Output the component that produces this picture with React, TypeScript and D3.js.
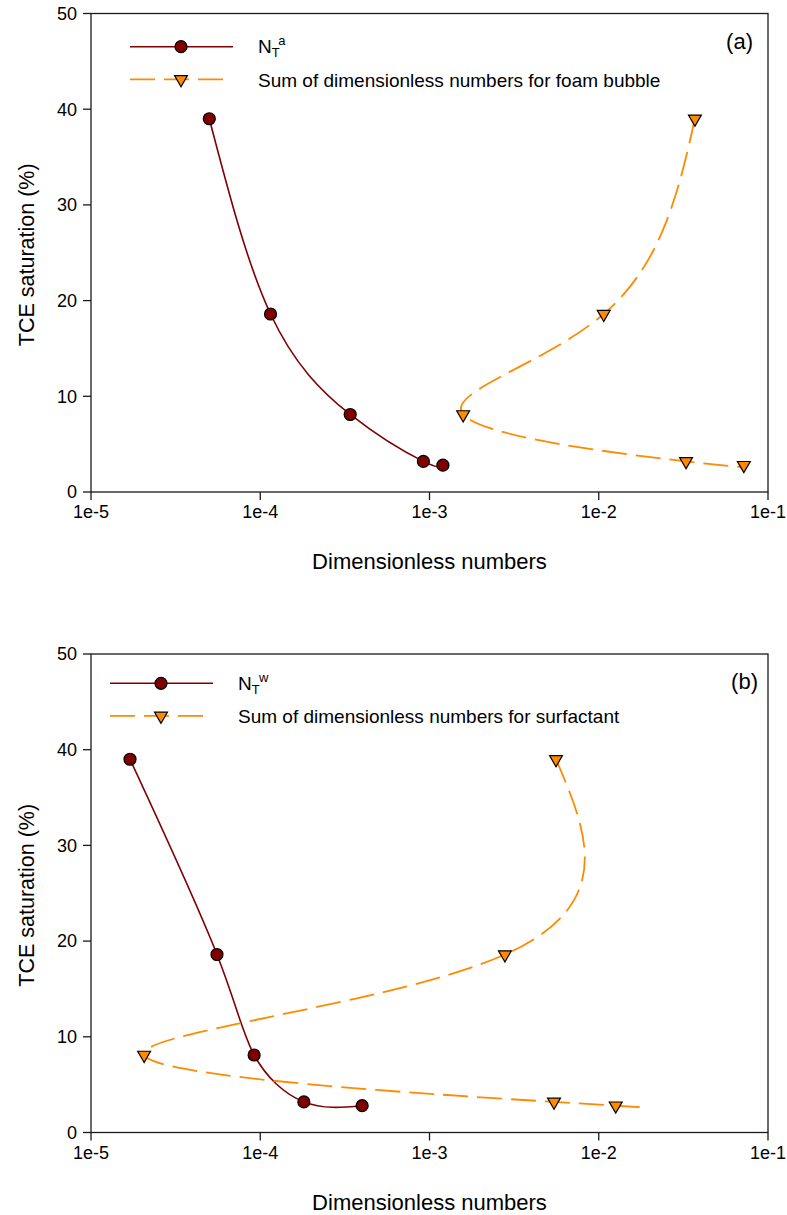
import React from "react";
import * as d3 from "d3";

// TCE saturation (%) shared by every series
const SATURATION = [39, 18.6, 8.1, 3.2, 2.8];

// Panel (a): foam bubble
const NT_AIR = [5.0e-5, 1.15e-4, 3.4e-4, 9.2e-4, 1.2e-3];
const SUM_FOAM = [3.7e-2, 1.07e-2, 1.58e-3, 3.28e-2, 7.2e-2];

// Panel (b): surfactant
const NT_WATER = [1.7e-5, 5.55e-5, 9.2e-5, 1.81e-4, 4.0e-4];
const SUM_SURF = [5.59e-3, 2.79e-3, 2.06e-5, 5.44e-3, 1.26e-2];

const X_TICKS = [1e-5, 1e-4, 1e-3, 1e-2, 1e-1];
const X_TICK_LABELS = ["1e-5", "1e-4", "1e-3", "1e-2", "1e-1"];
const Y_TICKS = [0, 10, 20, 30, 40, 50];

const FONT = "'Liberation Sans', Arial, Helvetica, sans-serif";
const MAROON = "#800000";
const ORANGE = "#ff8a00";
const AXIS = "#1a1a1a";
const DASH = "25,9";

const LEFT = 91;
const RIGHT = 768;
const PLOT_H = 478.5;

type PanelSpec = {
  top: number;
  nt: number[];
  sum: number[];
  ntSup: string;
  sumLabel: string;
  tag: string;
  legendX: number;
  legendY: number;
  tagX: number;
  tagY: number;
};

const PANELS: PanelSpec[] = [
  {
    top: 13.5,
    nt: NT_AIR,
    sum: SUM_FOAM,
    ntSup: "a",
    sumLabel: "Sum of dimensionless numbers for foam bubble",
    tag: "(a)",
    legendX: 130,
    legendY: 46.7,
    tagX: 753,
    tagY: 49,
  },
  {
    top: 654,
    nt: NT_WATER,
    sum: SUM_SURF,
    ntSup: "w",
    sumLabel: "Sum of dimensionless numbers for surfactant",
    tag: "(b)",
    legendX: 110,
    legendY: 683.3,
    tagX: 758,
    tagY: 689,
  },
];

const triangle = d3.symbol().type(d3.symbolTriangle).size(72)() as string;

function Panel({ p }: { p: PanelSpec }) {
  const x = d3.scaleLog().domain([1e-5, 1e-1]).range([LEFT, RIGHT]);
  const y = d3.scaleLinear().domain([0, 50]).range([p.top + PLOT_H, p.top]);
  const bottom = y(0);

  // smooth spline through the points in saturation order
  const lineFor = (xs: number[]) =>
    d3
      .line<number>()
      .x((_, i) => x(xs[i]))
      .y((d) => y(d))
      .curve(d3.curveNatural)(SATURATION) as string;

  const lx = p.legendX;
  const ly = p.legendY;
  const textX = lx + 128;

  return (
    <g>
      {/* frame */}
      <rect
        x={LEFT}
        y={p.top}
        width={RIGHT - LEFT}
        height={PLOT_H}
        fill="none"
        stroke={AXIS}
        strokeWidth={1.3}
      />
      {/* y axis */}
      {Y_TICKS.map((t) => (
        <g key={"y" + t}>
          <line x1={LEFT - 8} x2={LEFT} y1={y(t)} y2={y(t)} stroke={AXIS} strokeWidth={1.3} />
          <text
            x={LEFT - 14}
            y={y(t)}
            dy="0.35em"
            textAnchor="end"
            fontSize={18}
            fontFamily={FONT}
            fill="#000"
          >
            {t}
          </text>
        </g>
      ))}
      {/* x axis */}
      {X_TICKS.map((t, i) => (
        <g key={"x" + t}>
          <line x1={x(t)} x2={x(t)} y1={bottom} y2={bottom + 8} stroke={AXIS} strokeWidth={1.3} />
          <text
            x={x(t)}
            y={bottom + 20}
            dy="0.35em"
            textAnchor="middle"
            fontSize={18}
            fontFamily={FONT}
            fill="#000"
          >
            {X_TICK_LABELS[i]}
          </text>
        </g>
      ))}
      <text
        x={(LEFT + RIGHT) / 2}
        y={bottom + 77}
        textAnchor="middle"
        fontSize={22}
        fontFamily={FONT}
        fill="#000"
      >
        Dimensionless numbers
      </text>
      <text
        transform={`translate(34,${p.top + PLOT_H / 2 + 2}) rotate(-90)`}
        textAnchor="middle"
        fontSize={21.5}
        fontFamily={FONT}
        fill="#000"
      >
        TCE saturation (%)
      </text>

      {/* series curves */}
      <path d={lineFor(p.nt)} fill="none" stroke={MAROON} strokeWidth={1.6} />
      <path
        d={lineFor(p.sum)}
        fill="none"
        stroke={ORANGE}
        strokeWidth={1.8}
        strokeDasharray={DASH}
      />
      {p.nt.map((v, i) => (
        <circle
          key={"c" + i}
          cx={x(v)}
          cy={y(SATURATION[i])}
          r={6}
          fill={MAROON}
          stroke="#000"
          strokeWidth={1.2}
        />
      ))}
      {p.sum.map((v, i) => (
        <path
          key={"t" + i}
          d={triangle}
          transform={`translate(${x(v)},${y(SATURATION[i])}) rotate(180)`}
          fill={ORANGE}
          stroke="#000"
          strokeWidth={1.2}
        />
      ))}

      {/* legend */}
      <line x1={lx} x2={lx + 103} y1={ly} y2={ly} stroke={MAROON} strokeWidth={1.6} />
      <circle cx={lx + 51} cy={ly} r={6} fill={MAROON} stroke="#000" strokeWidth={1.2} />
      <text x={textX} y={ly + 6.6} fontSize={19} fontFamily={FONT} fill="#000">
        N
        <tspan fontSize={13} dy={3.7}>
          T
        </tspan>
        <tspan fontSize={13} dy={-12}>
          {p.ntSup}
        </tspan>
      </text>
      <line
        x1={lx}
        x2={lx + 93}
        y1={ly + 32.6}
        y2={ly + 32.6}
        stroke={ORANGE}
        strokeWidth={1.8}
        strokeDasharray={DASH}
      />
      <path
        d={triangle}
        transform={`translate(${lx + 51},${ly + 32.6}) rotate(180)`}
        fill={ORANGE}
        stroke="#000"
        strokeWidth={1.2}
      />
      <text x={textX} y={ly + 40} fontSize={19} fontFamily={FONT} fill="#000">
        {p.sumLabel}
      </text>

      <text x={p.tagX} y={p.tagY} textAnchor="end" fontSize={22} fontFamily={FONT} fill="#000">
        {p.tag}
      </text>
    </g>
  );
}

export default function App() {
  return (
    <svg
      width={787}
      height={1215}
      viewBox="0 0 787 1215"
      style={{ position: "absolute", left: 0, top: 0, background: "#fff" }}
    >
      <rect width={787} height={1215} fill="#fff" />
      {PANELS.map((p) => (
        <Panel key={p.tag} p={p} />
      ))}
    </svg>
  );
}
